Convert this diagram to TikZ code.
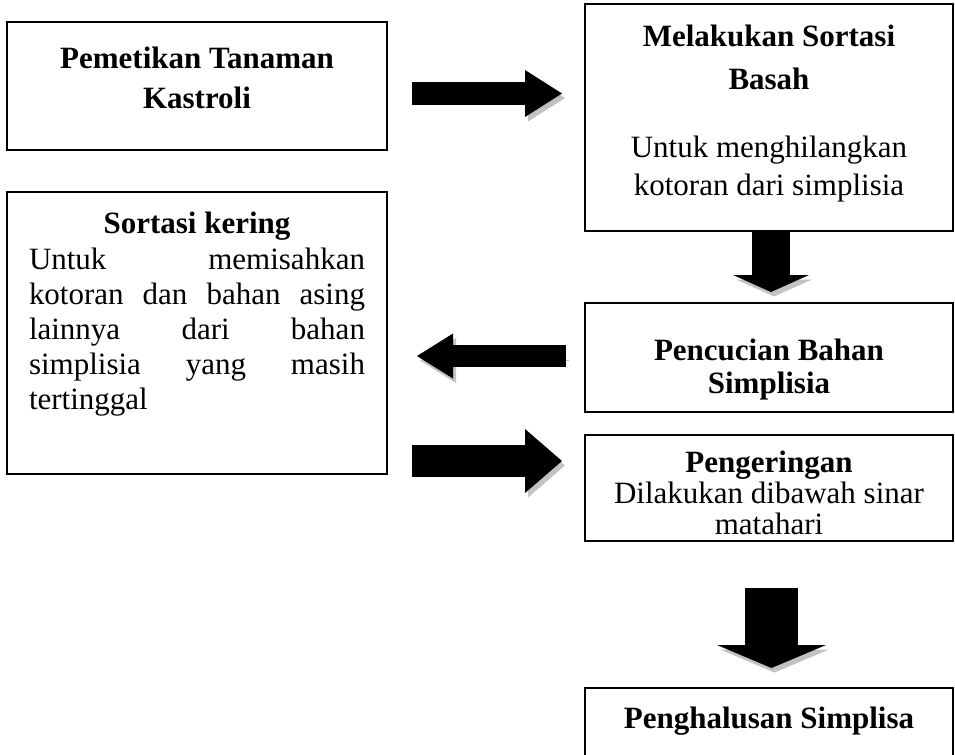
\documentclass[tikz,border=0pt]{standalone}
\usepackage{fontspec}
\setmainfont{Liberation Serif}
\usetikzlibrary{arrows.meta,calc}
\newlength{\px}
\setlength{\px}{0.5pt}
\definecolor{shadowgray}{gray}{0.76}
\tikzset{
  stepbox/.style={draw, line width=1pt, inner sep=0pt, outer sep=0pt, anchor=north west},
  blockarrow/.style n args={3}{line width=#1, -{Triangle[width=#2, length=#3, line width=0pt]},
    preaction={draw=shadowgray, transform canvas={shift={(3,4.5)}}}},
}
\begin{document}
\begin{tikzpicture}[x=0.5pt, y=-0.5pt]
  \useasboundingbox (0,0) rectangle (955,755);
  % boxes
  \node[stepbox] (pemetikan) at (7,22) {\parbox[c][128\px][t]{380\px}{\centering
    \fontsize{15.5}{20}\selectfont\bfseries
    \rule{0pt}{46\px}Pemetikan Tanaman\\Kastroli}};
  \node[stepbox] (basah) at (585,4) {\parbox[c][227\px][t]{368\px}{\centering
    \fontsize{15.5}{21.5}\selectfont
    \rule{0pt}{42\px}\textbf{Melakukan Sortasi}\\\textbf{Basah}\par
    \fontsize{15.5}{19}\selectfont\vspace{30\px}
    Untuk menghilangkan\\kotoran dari simplisia}};
  \node[stepbox] (sortasi) at (7,192) {\parbox[c][282\px][t]{380\px}{%
    \fontsize{15.5}{17.5}\selectfont
    {\centering\bfseries\rule{0pt}{41\px}Sortasi kering\par}
    \leftskip=22\px \rightskip=22\px \vspace{1\px}
    Untuk memisahkan\linebreak kotoran dan bahan asing\linebreak
    lainnya dari bahan\linebreak simplisia yang masih\linebreak tertinggal}};
  \node[stepbox] (pencucian) at (585,303) {\parbox[c][109\px][t]{368\px}{\centering
    \fontsize{15.5}{16.5}\selectfont\bfseries
    \rule{0pt}{57\px}Pencucian Bahan\\Simplisia}};
  \node[stepbox] (pengeringan) at (585,435) {\parbox[c][106\px][t]{368\px}{\centering
    \fontsize{15.5}{15.5}\selectfont
    \rule{0pt}{37\px}\textbf{Pengeringan}\\Dilakukan dibawah sinar\\matahari}};
  \node[stepbox] (penghalusan) at (585,688) {\parbox[c][100\px][t]{368\px}{\centering
    \fontsize{15.5}{17}\selectfont\bfseries
    \rule{0pt}{40\px}Penghalusan Simplisa}};
  % arrows
  \coordinate (a1) at ($(pemetikan.east)+(0,7.5)$);
  \coordinate (a2) at ($(basah.south)+(2,0)$);
  \coordinate (a3) at ($(pencucian.west)+(0,-1.5)$);
  \coordinate (a4) at ($(pengeringan.west)+(0,-27)$);
  \coordinate (a5) at ($(pengeringan.south)+(2.5,0)$);
  \draw[blockarrow={11.5pt}{23.5pt}{18.5pt}, shorten <=12.5pt, shorten >=11.5pt] (a1) -- (a1 -| basah.west);
  \draw[blockarrow={19pt}{38pt}{8.5pt}, shorten >=5.5pt] (a2) -- (a2 |- pencucian.north);
  \draw[blockarrow={11pt}{22.5pt}{18pt}, shorten <=9.5pt, shorten >=15pt] (a3) -- (a3 -| sortasi.east);
  \draw[blockarrow={16pt}{32pt}{18.5pt}, shorten <=12.5pt, shorten >=11.5pt] (a4 -| sortasi.east) -- (a4);
  \draw[blockarrow={26.5pt}{54.5pt}{11.5pt}, shorten <=23.5pt, shorten >=10pt] (a5) -- (a5 |- penghalusan.north);
\end{tikzpicture}
\end{document}
